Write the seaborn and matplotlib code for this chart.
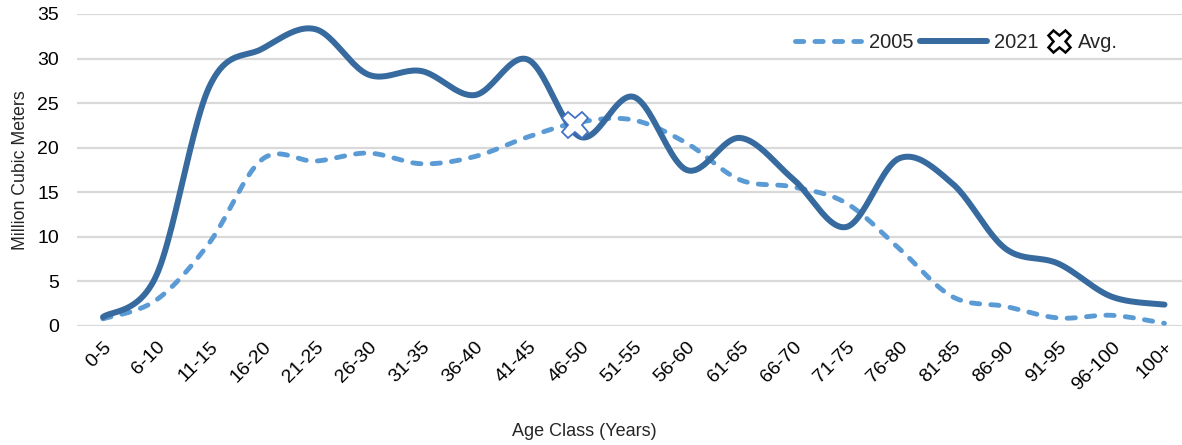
import numpy as np
import pandas as pd
import matplotlib
matplotlib.use("Agg")
import matplotlib.pyplot as plt
from matplotlib.lines import Line2D
import seaborn as sns

# Age classes and volumes (million m3)
age_classes = ["0-5", "6-10", "11-15", "16-20", "21-25", "26-30", "31-35", "36-40",
               "41-45", "46-50", "51-55", "56-60", "61-65", "66-70", "71-75", "76-80",
               "81-85", "86-90", "91-95", "96-100", "100+"]
vol_2005 = [0.8, 2.9, 9.3, 18.7, 18.5, 19.4, 18.2, 19.0, 21.2, 22.9, 23.1,
            20.5, 16.4, 15.6, 13.8, 8.7, 3.3, 2.2, 0.9, 1.2, 0.3]
vol_2021 = [1.0, 5.6, 26.8, 31.1, 33.3, 28.2, 28.6, 25.9, 29.9, 21.2, 25.7,
            17.5, 21.1, 16.5, 11.1, 18.8, 16.0, 8.7, 7.0, 3.3, 2.4]
avg_class = "46-50"
avg_value = 22.6

C_2005 = "#5B9BD5"
C_2021 = "#376A9E"
C_AVG = "#4472C4"
DASH = (1.7, 2.3)


def smooth(vals, n=24):
    """Excel-style smoothed line: Catmull-Rom segments as cubic Beziers."""
    p = np.asarray(vals, dtype=float)
    x = np.arange(len(p), dtype=float)
    pts = np.column_stack([x, p])
    pad = np.vstack([pts[0], pts, pts[-1]])
    t = np.linspace(0, 1, n, endpoint=False)[:, None]
    out = []
    for i in range(len(pts) - 1):
        p0, p1, p2, p3 = pad[i], pad[i + 1], pad[i + 2], pad[i + 3]
        c1 = p1 + (p2 - p0) / 6
        c2 = p2 - (p3 - p1) / 6
        seg = ((1 - t) ** 3) * p1 + 3 * ((1 - t) ** 2) * t * c1 + 3 * (1 - t) * t ** 2 * c2 + t ** 3 * p2
        out.append(seg)
    out.append(pts[-1][None, :])
    out = np.vstack(out)
    return out[:, 0], out[:, 1]


sns.set_theme(style="white")
plt.rcParams["font.family"] = ["Liberation Sans", "DejaVu Sans"]

fig = plt.figure(figsize=(11.82, 4.45), dpi=100)
ax = fig.add_axes([77 / 1182, 1 - 326 / 445, 1 - 77 / 1182, (326 - 14) / 445])

x05, y05 = smooth(vol_2005)
x21, y21 = smooth(vol_2021)
df05 = pd.DataFrame({"pos": x05, "value": y05})
df21 = pd.DataFrame({"pos": x21, "value": y21})

sns.lineplot(data=df05, x="pos", y="value", ax=ax, color=C_2005, linewidth=3.5,
             sort=False, estimator=None)
ax.lines[-1].set_dashes(DASH)
ax.lines[-1].set_dash_capstyle("round")
sns.lineplot(data=df21, x="pos", y="value", ax=ax, color=C_2021, linewidth=4.3,
             sort=False, estimator=None)
ax.lines[-1].set_solid_capstyle("round")

ax.plot(age_classes.index(avg_class) - 0.1, avg_value, marker="X", markersize=19,
        markerfacecolor="white", markeredgecolor=C_AVG, markeredgewidth=1.3,
        linestyle="none", zorder=5)

ax.set_ylim(0, 35)
ax.set_xlim(-0.49, 20.33)
ax.set_yticks(np.arange(0, 36, 5))
ax.set_xticks(range(len(age_classes)))
ax.set_xticklabels(age_classes, rotation=45, ha="right", va="top", rotation_mode="anchor")
ax.tick_params(axis="both", length=0, labelsize=14, colors="black")
ax.tick_params(axis="y", pad=13)
ax.tick_params(axis="x", pad=9)
ax.grid(axis="y", color="#D9D9D9", linewidth=1.6)
ax.grid(axis="x", visible=False)
for s in ax.spines.values():
    s.set_visible(False)
ax.set_xlabel("")
ax.set_ylabel("Million Cubic Meters", fontsize=12.8, labelpad=6)

fig.text(584 / 1182, 1 - 431 / 445, "Age Class (Years)", fontsize=13,
         ha="center", va="center")

line_handles = [
    Line2D([], [], color=C_2005, linewidth=3.5, dashes=DASH, dash_capstyle="round"),
    Line2D([], [], color=C_2021, linewidth=4.3, solid_capstyle="round"),
]
leg1 = ax.legend(line_handles, ["2005", "2021"], loc="center left",
                 bbox_to_anchor=(795 / 1182, 1 - 43 / 445), bbox_transform=fig.transFigure,
                 ncol=2, frameon=False, fontsize=14.5, handlelength=3.3, handletextpad=0.35,
                 columnspacing=0.35, borderpad=0, borderaxespad=0)
ax.add_artist(leg1)
avg_handle = Line2D([], [], marker="X", markersize=16, markerfacecolor="white",
                    markeredgecolor="black", markeredgewidth=1.8, linestyle="none")
ax.legend([avg_handle], ["Avg."], loc="center left",
          bbox_to_anchor=(1046 / 1182, 1 - 43 / 445), bbox_transform=fig.transFigure,
          frameon=False, fontsize=14.5, handlelength=1.3, handletextpad=0.3,
          borderpad=0, borderaxespad=0)

fig.savefig("out.png", dpi=100)
